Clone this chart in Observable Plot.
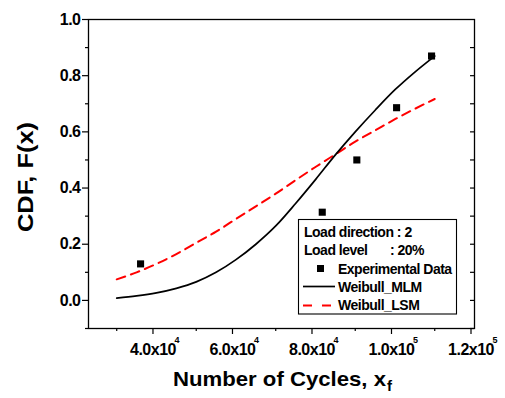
<!DOCTYPE html>
<html><head><meta charset="utf-8">
<script src="https://cdn.jsdelivr.net/npm/d3@7"></script>
<script src="https://cdn.jsdelivr.net/npm/@observablehq/plot@0.6"></script>
<style>
body{margin:0;background:#fff}
#chart{position:relative;width:505px;height:398px}
</style>
</head><body><div id="chart"></div>
<script>
// Experimental data (median ranks)
const expCycles = [36000, 81700, 90400, 100400, 109200];
const expCdf = [0.130, 0.314, 0.500, 0.686, 0.870];
// Weibull MLM curve
const mlmCycles = [30000, 35000, 40000, 45000, 50000, 55000, 60000, 65000, 70000, 75000, 80000, 85000, 90000, 95000, 100000, 105000, 110000];
const mlmCdf = [0.008, 0.016, 0.027, 0.043, 0.066, 0.100, 0.145, 0.200, 0.265, 0.345, 0.430, 0.518, 0.600, 0.677, 0.750, 0.813, 0.870];
// Weibull LSM curve
const lsmCycles = [30000, 35000, 40000, 45000, 50000, 55000, 60000, 65000, 70000, 75000, 80000, 85000, 90000, 95000, 100000, 105000, 110000];
const lsmCdf = [0.075, 0.100, 0.130, 0.165, 0.205, 0.245, 0.290, 0.335, 0.380, 0.428, 0.475, 0.520, 0.565, 0.605, 0.645, 0.682, 0.717];
// Axis ticks
const xMajorTicks = [40000, 60000, 80000, 100000, 120000];
const xTickMantissa = ["4.0x10", "6.0x10", "8.0x10", "1.0x10", "1.2x10"];
const xTickExponent = ["4", "4", "4", "5", "5"];
const xMinorTicks = [30000, 50000, 70000, 90000, 110000];
const yMajorTicks = [0, 0.2, 0.4, 0.6, 0.8, 1.0];
const yMinorTicks = [-0.1, 0.1, 0.3, 0.5, 0.7, 0.9];
const yRightTicks = [-0.1, 0, 0.1, 0.2, 0.3, 0.4, 0.5, 0.6, 0.7, 0.8, 0.9];
// Texts
const xTitle = "Number of Cycles, x";
const xTitleSub = "f";
const yTitle = "CDF, F(x)";
const legendInfo = [["Load direction : 2", ""], ["Load level", ": 20%"]];
const seriesNames = ["Experimental Data", "Weibull_MLM", "Weibull_LSM"];

const xDomain = [22900, 120000];
const yDomain = [-0.1, 1.0];

const exp = expCycles.map((x, i) => ({x, y: expCdf[i]}));
const mlm = mlmCycles.map((x, i) => ({x, y: mlmCdf[i]}));
const lsm = lsmCycles.map((x, i) => ({x, y: lsmCdf[i]}));

const plot = Plot.plot({
  width: 505, height: 398,
  marginLeft: 88, marginRight: 31, marginTop: 19, marginBottom: 70,
  x: {domain: xDomain},
  y: {domain: yDomain},
  style: {fontFamily: "'Liberation Sans', Arial, sans-serif", fontWeight: "bold", fontSize: "16px", color: "black", background: "white", overflow: "visible", letterSpacing: "-0.5px"},
  marks: [
    Plot.axisY(yMajorTicks, {tickSize: 6, tickPadding: 2, tickFormat: d3.format(".1f"), label: null, strokeWidth: 1.2}),
    Plot.axisY(yMinorTicks, {tickSize: 3, tickFormat: () => "", label: null, strokeWidth: 1.2}),
    Plot.ruleY(yRightTicks, {y: d => d, x1: xDomain[1], x2: xDomain[1] - 1000, stroke: "black", strokeWidth: 1.2}),
    Plot.axisX(xMajorTicks, {tickSize: 6, tickPadding: 9, tickFormat: d => xTickMantissa[xMajorTicks.indexOf(d)], dx: -3.5, label: null, strokeWidth: 1.2}),
    Plot.axisX(xMinorTicks, {tickSize: 3, tickFormat: () => "", label: null, strokeWidth: 1.2}),
    Plot.text(xMajorTicks, {x: d => d, text: d => xTickExponent[xMajorTicks.indexOf(d)], frameAnchor: "bottom", dx: 18, dy: 14, textAnchor: "start", fontSize: 9}),
    Plot.line(lsm, {x: "x", y: "y", stroke: "#ff0000", strokeWidth: 2, strokeDasharray: "9,6", curve: "monotone-x"}),
    Plot.line(mlm, {x: "x", y: "y", stroke: "black", strokeWidth: 1.7, curve: "monotone-x"}),
    Plot.dot(exp, {x: "x", y: "y", symbol: "square", r: 4, fill: "black", stroke: null}),
    Plot.frame({stroke: "black", strokeWidth: 1.3})
  ]
});

const svg = d3.select(plot);
// Axis titles
const xt = svg.append("text").attr("x", 173).attr("y", 386).attr("font-size", 21).attr("fill", "black")
  .attr("text-anchor", "start").style("letter-spacing", "0");
xt.append("tspan").text(xTitle).attr("textLength", 213).attr("lengthAdjust", "spacingAndGlyphs");
xt.append("tspan").text(xTitleSub).attr("font-size", 15).attr("dy", 5).attr("dx", 1);
svg.append("text").attr("transform", "translate(33,177) rotate(-90)").attr("text-anchor", "middle")
  .attr("font-size", 22).attr("fill", "black").style("letter-spacing", "0").attr("textLength", 110).attr("lengthAdjust", "spacingAndGlyphs").text(yTitle);

// Legend
const lg = svg.append("g").attr("font-size", 14).attr("text-anchor", "start").attr("fill", "black");
lg.append("rect").attr("x", 298.5).attr("y", 219.5).attr("width", 158).attr("height", 94.5).attr("fill", "white").attr("stroke", "black").attr("stroke-width", 1.1);
lg.append("text").attr("x", 304).attr("y", 236.5).text(legendInfo[0][0]);
lg.append("text").attr("x", 304).attr("y", 254.5).text(legendInfo[1][0]);
lg.append("text").attr("x", 390).attr("y", 254.5).text(legendInfo[1][1]);
const rowY = [268.5, 286.5, 304.5];
lg.append("rect").attr("x", 317).attr("y", rowY[0] - 3.5).attr("width", 7).attr("height", 7).attr("fill", "black");
lg.append("line").attr("x1", 303).attr("x2", 335).attr("y1", rowY[1]).attr("y2", rowY[1]).attr("stroke", "black").attr("stroke-width", 1.7);
lg.append("line").attr("x1", 303).attr("x2", 331).attr("y1", rowY[2]+1).attr("y2", rowY[2]+1).attr("stroke", "#ff0000").attr("stroke-width", 2).attr("stroke-dasharray", "9,10");
seriesNames.forEach((s, i) => lg.append("text").attr("x", 338).attr("y", rowY[i] + 5).text(s));

document.getElementById("chart").appendChild(plot);
</script>
</body></html>
